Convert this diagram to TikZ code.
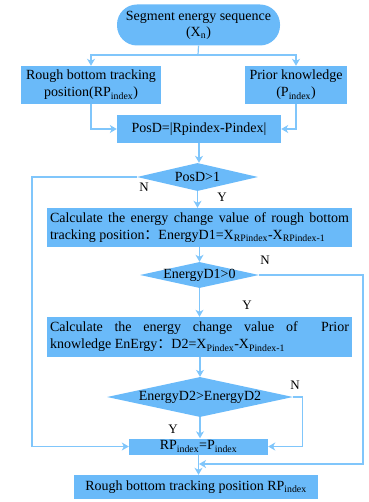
\documentclass[tikz,border=0pt]{standalone}
\usepackage{fontspec}
\setmainfont{Liberation Serif}
\newfontfamily\cjk{Noto Sans CJK SC}
\usetikzlibrary{shapes.geometric,arrows.meta}

\definecolor{boxfill}{RGB}{106,186,249}
\definecolor{linecol}{RGB}{128,198,251}

\begin{document}
\begin{tikzpicture}[x=1pt,y=-1pt,
  every node/.style={font=\fontsize{14}{17}\selectfont, text=black},
  stepbox/.style={rectangle, fill=boxfill, draw=none, inner sep=0pt, align=center},
  termbox/.style={stepbox, rounded corners=20pt},
  decide/.style={diamond, fill=boxfill, draw=none, inner sep=0pt},
  lbl/.style={font=\fontsize{13}{15}\selectfont},
  conn/.style={draw=linecol, line width=1.2pt},
  arr/.style={conn, -{Stealth[length=7pt,width=8pt,inset=2pt]}}]

\useasboundingbox (0,0) rectangle (368,502);

% boxes
\node[termbox, minimum width=163pt, minimum height=41pt] (start) at (198.5,25)
  {Segment energy sequence\\[-1pt](X\textsubscript{n})};
\node[stepbox, minimum width=140pt, minimum height=38pt] (rbt) at (91,85)
  {Rough bottom tracking\\position(RP\textsubscript{index})};
\node[stepbox, minimum width=102pt, minimum height=38pt] (prior) at (296,85)
  {Prior knowledge\\(P\textsubscript{index})};
\node[stepbox, minimum width=164pt, minimum height=28pt] (posd) at (199,129)
  {PosD=|Rpindex-Pindex|};
\node[decide, minimum width=121pt, minimum height=28pt, label=center:{PosD>1}] (d1) at (197.5,177) {};
\node[stepbox, minimum width=305pt, minimum height=39pt, text width=299pt, align=justify] (calc1) at (199.5,227.5)
  {Calculate the energy change value of rough bottom\linebreak tracking position{\cjk ：}EnergyD1=X\textsubscript{RPindex}-X\textsubscript{RPindex-1}};
\node[decide, minimum width=119pt, minimum height=26pt, label=center:{EnergyD1>0}] (d2) at (199.5,275) {};
\node[stepbox, minimum width=305pt, minimum height=40pt, text width=299pt, align=justify] (calc2) at (199.5,337)
  {Calculate the energy change value of \ Prior\linebreak knowledge EnErgy{\cjk ：}D2=X\textsubscript{Pindex}-X\textsubscript{Pindex-1}};
\node[decide, minimum width=186pt, minimum height=40pt, label=center:{EnergyD2>EnergyD2}] (d3) at (200,397) {};
\node[stepbox, minimum width=139pt, minimum height=16pt] (rp) at (198.5,446.5)
  {RP\textsubscript{index}=P\textsubscript{index}};
\node[stepbox, minimum width=244pt, minimum height=24pt] (out) at (196,487)
  {Rough bottom tracking position RP\textsubscript{index}};

% helper points
\coordinate (split) at (198,55);
\coordinate (lft) at (32,177);
\coordinate (rgt) at (363,275);
\coordinate (join) at (199,464);

% connectors
\draw[conn] (start.south) -- (split);
\draw[arr] (split) -| (rbt.north);
\draw[arr] (split) -| (prior.north);
\draw[arr] (rbt.south) |- (posd.west);
\draw[arr] (prior.south) |- (posd.east);
\draw[arr] (posd.south) -- (posd.south |- d1.north);
\draw[arr] (d1.west) -- (lft) |- (rp.west);
\draw[arr] (d1.south) -- (d1.south |- calc1.north);
\draw[arr] (calc1.south -| d2.north) -- (d2.north);
\draw[arr] (d2.east) -- (rgt) |- (join);
\draw[arr] (d2.south) -- (d2.south |- calc2.north);
\draw[arr] (calc2.south -| d3.north) -- (d3.north);
\draw[arr] (d3.east) -- ++(9,0) |- (rp.east);
\draw[arr] (d3.south) -- (d3.south |- rp.north);
\draw[arr] (rp.south) -- (rp.south |- out.north);

% branch labels
\node[lbl] (n1) at (144,187) {N};
\node[lbl] (y1) at (222,197) {Y};
\node[lbl] (n2) at (265,260) {N};
\node[lbl] (y2) at (247,305) {Y};
\node[lbl] (n3) at (295,385) {N};
\node[lbl] (y3) at (173,429) {Y};

\end{tikzpicture}
\end{document}
